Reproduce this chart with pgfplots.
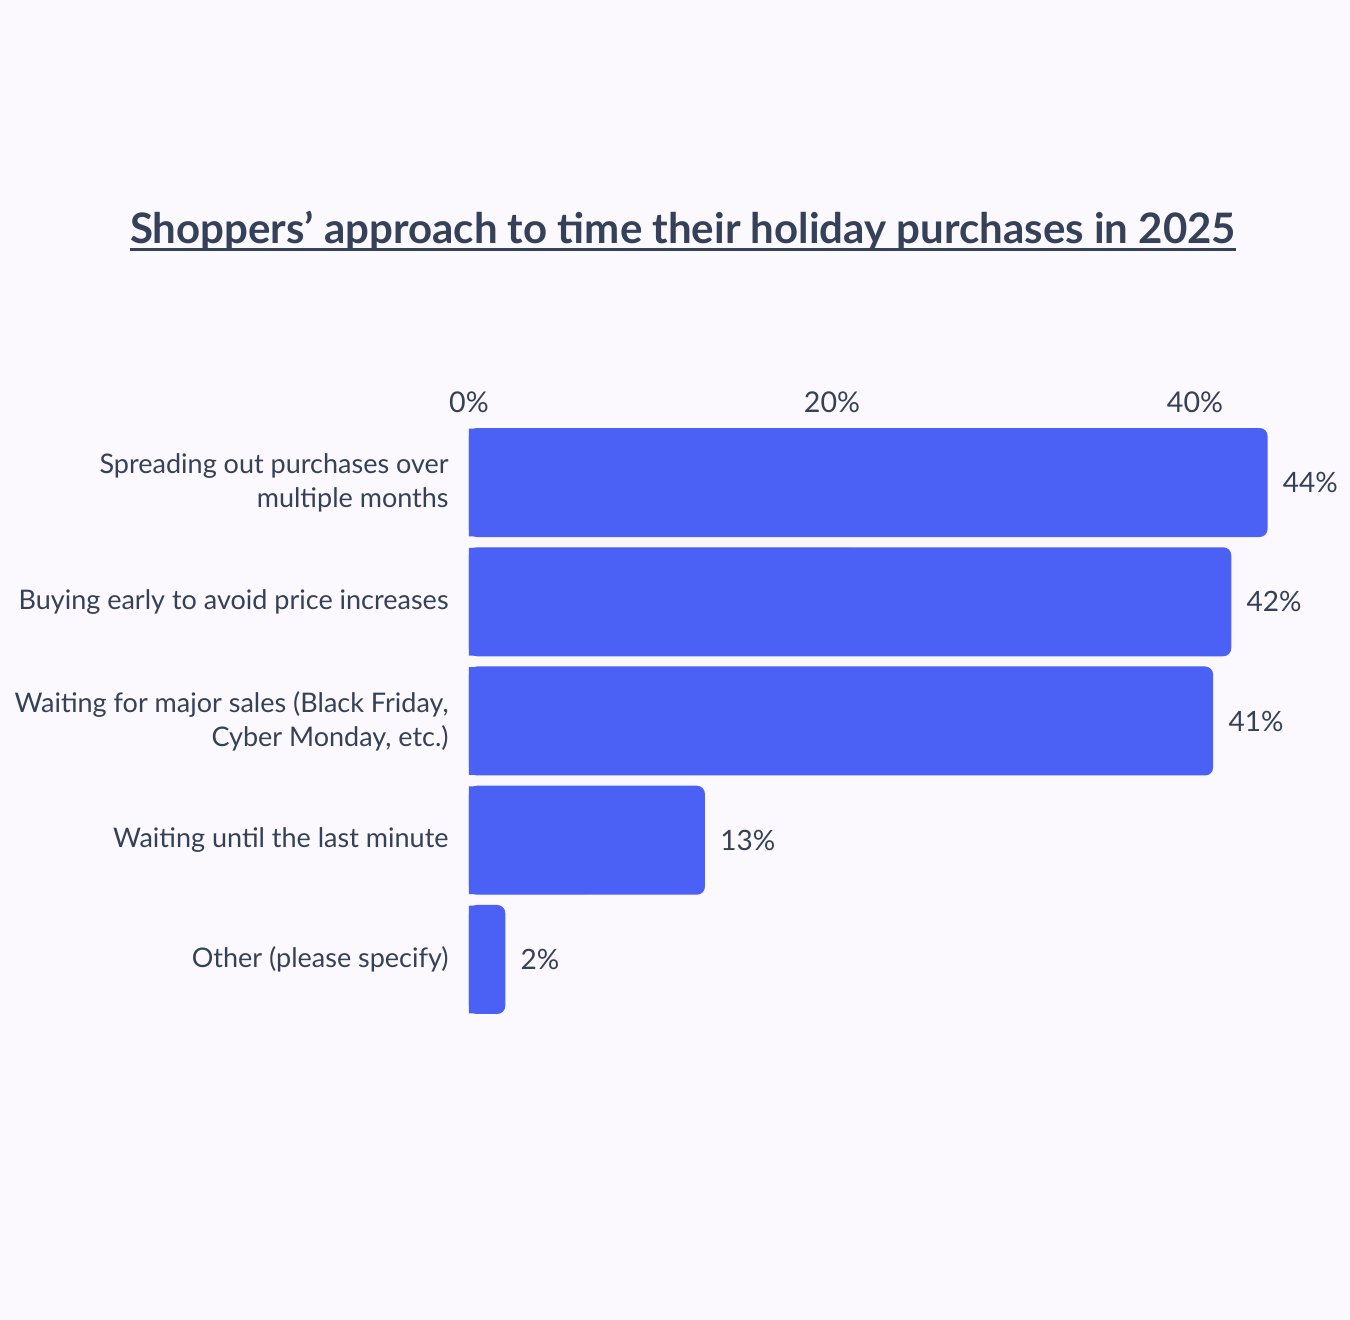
\documentclass[border=0pt]{standalone}
\usepackage{pgfplots}
\pgfplotsset{compat=1.18}
\usepackage{pgfplotstable}
\usepackage{fontspec}
\setmainfont{Lato}
\definecolor{bg}{HTML}{FBF8FE}
\definecolor{barblue}{HTML}{4B60F5}
\definecolor{ink}{HTML}{344158}

% share of shoppers, top to bottom
\pgfplotstableread{
pos share
0 44
1 42
2 41
3 13
4 2
}\shares

\begin{document}
\begin{tikzpicture}
% page: 1350x1320 px at 0.5pt per px, axis box corner at (0,0)
\fill[bg] (-234.5pt,-150.45pt) rectangle (440.5pt,509.55pt);
\begin{axis}[
    at={(0,0)}, anchor=south west,
    scale only axis,
    width=399.3pt, height=298.1pt,
    xmin=0, xmax=44,
    ymin=-0.5, ymax=4.5,
    y dir=reverse,
    xbar, bar width=54.5pt,
    axis line style={draw=none},
    tick style={draw=none},
    major tick length=0pt,
    xtick={0,20,40},
    xticklabel pos=upper,
    xticklabel={\pgfmathprintnumber{\tick}\%},
    xticklabel style={font=\fontsize{14.3}{16}\selectfont, text=ink, inner sep=0pt, anchor=base, yshift=5pt},
    ytick={0,1,2,3,4},
    yticklabels={{Spreading out purchases over\\multiple months},
                 {Buying early to avoid price increases},
                 {Waiting for major sales (Black Friday,\\Cyber Monday, etc.)},
                 {Waiting until the last minute},
                 {Other (please specify)}},
    yticklabel style={font=\fontsize{13.5}{17}\selectfont, text=ink, align=right, anchor=east, inner sep=0pt, xshift=-10pt},
    /pgf/number format/assume math mode=true,
    clip=false,
]
% square left end of each bar, a hair narrower, under the rounded bar
\addplot[draw=none, fill=barblue, bar shift=0pt, bar width=53.8pt]
    table[x expr=\thisrow{share}/2, y=pos] {\shares};
\addplot[draw=none, fill=barblue, rounded corners=4pt, bar shift=0pt,
    point meta=x,
    nodes near coords={\pgfmathprintnumber{\pgfplotspointmeta}\%},
    nodes near coords style={font=\fontsize{14}{16}\selectfont, text=ink, anchor=west, inner sep=0pt, xshift=7.5pt}]
    table[x=share, y=pos] {\shares};
\end{axis}
\node[font=\bfseries\fontsize{21}{24}\selectfont, text=ink, inner sep=0pt, anchor=base] (title) at (107pt,388pt)
    {Shoppers’ approach to time their holiday purchases in 2025};
\draw[ink, line width=1.6pt] ([yshift=-3.2pt]title.base west) -- ([yshift=-3.2pt]title.base east);
\end{tikzpicture}
\end{document}
